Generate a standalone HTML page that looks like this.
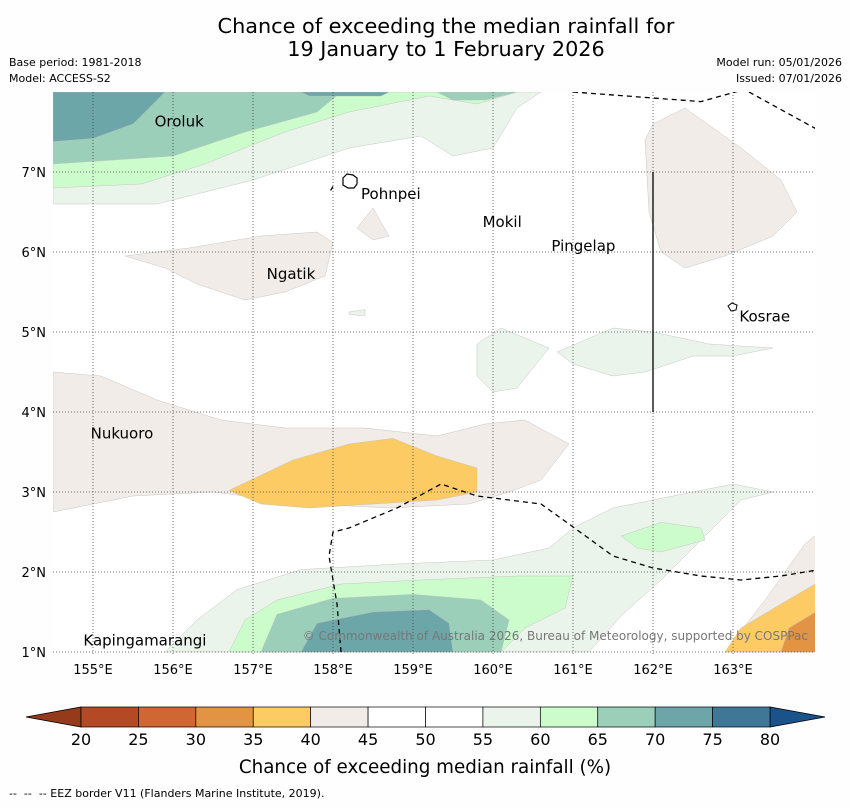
<!DOCTYPE html>
<html><head><meta charset="utf-8"><style>
body{margin:0;background:#fdfefd;font-family:"DejaVu Sans","Liberation Sans",sans-serif;}
</style></head><body>
<svg id="chart" width="850" height="804" xmlns="http://www.w3.org/2000/svg" style="font-family:'DejaVu Sans','Liberation Sans',sans-serif">
<rect width="850" height="804" fill="#fdfefd"/>
<text x="446" y="33" font-size="20.8" text-anchor="middle">Chance of exceeding the median rainfall for</text>
<text x="446" y="56" font-size="20.8" text-anchor="middle">19 January to 1 February 2026</text>
<text x="9" y="66" font-size="11">Base period: 1981-2018</text>
<text x="9" y="82" font-size="11">Model: ACCESS-S2</text>
<text x="842" y="66" font-size="11" text-anchor="end">Model run: 05/01/2026</text>
<text x="842" y="82" font-size="11" text-anchor="end">Issued: 07/01/2026</text>
<defs><clipPath id="mapclip"><rect x="53" y="92" width="762" height="562"/></clipPath></defs>
<rect x="53" y="92" width="762" height="562" fill="#ffffff"/>
<g id="fills" clip-path="url(#mapclip)"></g>
<g id="grid"></g>
<g id="eez" clip-path="url(#mapclip)"></g>
<g id="labels"></g>
<g id="colorbar"></g>
<text x="425" y="773" font-size="18.3" text-anchor="middle">Chance of exceeding median rainfall (%)</text>
<text x="9" y="797" font-size="11" xml:space="preserve">--  --  -- EEZ border V11 (Flanders Marine Institute, 2019).</text>
<text x="808" y="640" font-size="12" fill="#777" text-anchor="end">© Commonwealth of Australia 2026, Bureau of Meteorology, supported by COSPPac</text>
</svg>
<script>
const lonTicks=[155,156,157,158,159,160,161,162,163];
const latTicks=[1,2,3,4,5,6,7];
const cbTicks=[20,25,30,35,40,45,50,55,60,65,70,75,80];
const cbColors=["#b34a24","#cf6732","#e29444","#fdcb63","#f1ece7","#ffffff","#ffffff","#ebf4ea","#ccfccc","#9bcfb9","#6da6a8","#3f7897"];
// contour regions: [colorIndex, [[lon,lat],...]]
const regions=[
[7,[[154.5,8],[160.6,8],[160.3,7.8],[160,7.3],[159.5,7.2],[159.1,7.45],[158.2,7.3],[157,6.9],[155.8,6.6],[154.5,6.6]]],
[8,[[154.5,8],[160.3,8],[159.8,7.85],[159.2,7.95],[158.2,7.75],[157.4,7.5],[156.4,7.1],[155.6,6.85],[154.5,6.8]]],
[9,[[154.5,8],[158.1,8],[157.8,7.75],[156.9,7.5],[156,7.2],[154.5,7.1]]],
[9,[[159.3,8],[160.3,8],[159.9,7.9],[159.5,7.9]]],
[10,[[154.5,8],[155.9,8],[155.5,7.6],[155,7.42],[154.5,7.38]]],
[10,[[157.6,8],[158.7,8],[158.6,7.95],[157.7,7.95]]],
[4,[[162.0,7.6],[162.4,7.8],[163.1,7.3],[163.6,6.9],[163.8,6.5],[163.5,6.2],[162.9,5.95],[162.4,5.8],[162.1,6.0],[161.95,6.5],[161.9,7.4]]],
[4,[[158.3,6.3],[158.5,6.55],[158.7,6.2],[158.5,6.15]]],
[4,[[155.4,5.95],[156.2,6.05],[157.1,6.2],[157.8,6.25],[158,6.12],[157.9,5.7],[157.4,5.5],[156.9,5.4],[156.3,5.6],[155.9,5.8]]],
[4,[[154.5,4.5],[155.1,4.45],[155.8,4.15],[156.6,3.9],[157.4,3.8],[158.4,3.8],[159.3,3.7],[159.9,3.85],[160.4,3.9],[160.95,3.6],[160.6,3.15],[160.2,3.0],[159.7,2.85],[158.7,2.8],[157.7,2.85],[156.5,3.0],[155.5,2.95],[154.5,2.75]]],
[4,[[162.9,1],[163.4,1.65],[163.9,2.35],[164.2,2.6],[164.2,1]]],
[3,[[156.7,3.02],[157.5,3.4],[158.2,3.6],[158.75,3.67],[159.3,3.45],[159.8,3.3],[159.8,3.0],[159.3,2.9],[158.5,2.85],[157.7,2.8],[157.1,2.85]]],
[3,[[162.9,1],[163.1,1.3],[163.6,1.6],[164.2,1.95],[164.2,1]]],
[2,[[163.6,1],[163.7,1.3],[164.2,1.6],[164.2,1]]],
[7,[[159.8,4.85],[160.1,5.05],[160.7,4.8],[160.3,4.3],[160,4.25],[159.8,4.45]]],
[7,[[160.8,4.75],[161.5,5.05],[162,5.0],[162.7,4.85],[163.5,4.8],[163,4.7],[162.5,4.7],[161.9,4.5],[161.5,4.45],[161,4.6]]],
[7,[[158.2,5.25],[158.4,5.28],[158.4,5.2],[158.2,5.22]]],
[7,[[155.9,1],[156.3,1.4],[156.8,1.78],[157.6,2.03],[158.8,2.1],[160,2.15],[160.7,2.3],[161,2.55],[161.5,2.8],[162.1,2.92],[163,3.1],[163.5,3.0],[163.1,2.9],[162.6,2.4],[162.1,1.9],[161.6,1.45],[161.2,1]]],
[8,[[156.7,1],[156.9,1.4],[157.3,1.65],[158.1,1.85],[159.1,1.9],[160.3,1.95],[161,1.95],[160.9,1.55],[160.4,1.3],[160.1,1]]],
[8,[[161.6,2.45],[162.1,2.62],[162.6,2.55],[162.65,2.4],[162.1,2.25],[161.8,2.3]]],
[9,[[157.1,1],[157.3,1.47],[158,1.67],[159,1.72],[159.85,1.65],[160.2,1.4],[160.1,1]]],
[10,[[157.6,1],[157.8,1.36],[158.5,1.5],[159.2,1.53],[159.45,1.36],[159.5,1]]]
];
const eezLines=[
[[161.0,8.0],[162.6,7.88],[163.1,8.02]],
[[163.2,8.0],[164.2,7.45]],
[[158.1,1],[158.05,1.6],[157.95,2.2],[158.0,2.5],[158.2,2.55],[158.8,2.8],[159.35,3.1],[159.8,2.95],[160.6,2.85],[160.95,2.6],[161.5,2.2],[162,2.05],[162.6,1.95],[163.1,1.9],[163.6,1.95],[164.2,2.05]],
[[157.97,6.77],[158.0,6.82]]
];
const places=[["Oroluk",155.77,7.57],["Pohnpei",158.35,6.66],["Mokil",159.87,6.31],["Pingelap",160.73,6.01],["Ngatik",157.17,5.66],["Kosrae",163.08,5.13],["Nukuoro",154.97,3.67],["Kapingamarangi",154.88,1.08]];
const X=lon=>53+(lon-154.5)*80, Y=lat=>652-(lat-1)*80;
const NS="http://www.w3.org/2000/svg";
function mk(t,a,p){const e=document.createElementNS(NS,t);for(const k in a)e.setAttribute(k,a[k]);p.appendChild(e);return e;}
const fills=document.getElementById('fills');
regions.forEach((r,i)=>{
 const e=mk('polygon',{points:r[1].map(p=>X(p[0])+','+Y(p[1])).join(' '),fill:cbColors[r[0]],stroke:'#bbb','stroke-width':0.4},fills);
 
 
});
const grid=document.getElementById('grid');
lonTicks.forEach(l=>{
 const ln=mk('line',{x1:X(l),x2:X(l),y1:92,y2:654,stroke:'#444','stroke-width':0.8,'stroke-dasharray':'1,2'},grid);
 
 
 const t=mk('text',{x:X(l),y:674,'font-size':13,'text-anchor':'middle'},grid);t.textContent=l+'°E';
 
 
});
latTicks.forEach(l=>{
 const ln=mk('line',{x1:53,x2:815,y1:Y(l),y2:Y(l),stroke:'#444','stroke-width':0.8,'stroke-dasharray':'1,2'},grid);
 
 
 const t=mk('text',{x:46,y:Y(l)+5,'font-size':13,'text-anchor':'end'},grid);t.textContent=l+'°N';
 
 
});
const vl=mk('line',{x1:X(162),x2:X(162),y1:Y(7),y2:Y(4),stroke:'#222','stroke-width':1.5},grid);


const eez=document.getElementById('eez');
eezLines.forEach(l=>{
 const e=mk('polyline',{points:l.map(p=>X(p[0])+','+Y(p[1])).join(' '),fill:'none',stroke:'#000','stroke-width':1.3,'stroke-dasharray':'5,4'},eez);
 
 
});
const lab=document.getElementById('labels');
const isl1=mk('path',{d:'M343,178 l4,-4 l6,1 l4,3 l0,6 l-3,4 l-6,0 l-5,-3 z',fill:'#fff',stroke:'#000','stroke-width':1.2},lab);


const isl2=mk('path',{d:'M728,306 l4,-3 l5,2 l-1,5 l-5,1 z',fill:'#fff',stroke:'#000','stroke-width':1},lab);


places.forEach(p=>{
 const t=mk('text',{x:X(p[1]),y:Y(p[2]),'font-size':15},lab);t.textContent=p[0];
 
 
});
const cb=document.getElementById('colorbar');
const cbX=v=>81+(v-20)*(770-81)/60;
const l1=mk('polygon',{points:'26,717 81,707 81,727',fill:'#963a1c',stroke:'#000','stroke-width':0.8},cb);


const r1=mk('polygon',{points:'825,717 770,707 770,727',fill:'#1a528a',stroke:'#000','stroke-width':0.8},cb);


cbColors.forEach((c,i)=>{
 const r=mk('rect',{x:cbX(cbTicks[i]),y:707,width:cbX(cbTicks[i+1])-cbX(cbTicks[i]),height:20,fill:c,stroke:'#000','stroke-width':0.7},cb);
 
 
});
cbTicks.forEach(v=>{
 const t=mk('text',{x:cbX(v),y:745,'font-size':16,'text-anchor':'middle'},cb);t.textContent=v;
 
 
});
</script>
</body></html>
